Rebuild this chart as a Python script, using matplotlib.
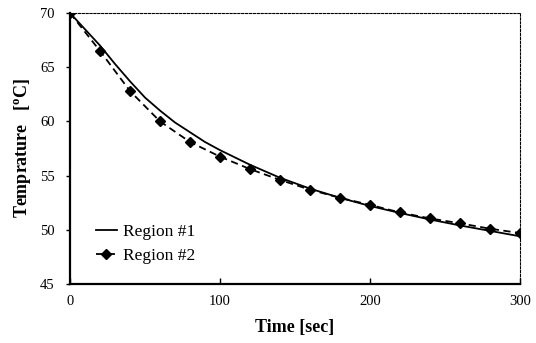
import matplotlib
matplotlib.use("Agg")
import matplotlib.pyplot as plt

# Data
t1 = [0, 10, 20, 30, 40, 50, 60, 70, 80, 90, 100, 120, 140, 160, 180, 200, 220, 240, 260, 280, 300]
region1 = [70.0, 68.5, 67.0, 65.3, 63.7, 62.2, 61.0, 59.9, 59.0, 58.1, 57.35, 56.0, 54.8, 53.8, 52.95, 52.2, 51.55, 50.95, 50.4, 49.9, 49.4]

t2 = [0, 20, 40, 60, 80, 100, 120, 140, 160, 180, 200, 220, 240, 260, 280, 300]
region2 = [70.0, 66.5, 62.8, 60.0, 58.1, 56.75, 55.6, 54.6, 53.7, 52.95, 52.3, 51.6, 51.05, 50.6, 50.1, 49.7]

xticks = [0, 100, 200, 300]
yticks = [45, 50, 55, 60, 65, 70]

plt.rcParams['font.family'] = ['Liberation Serif', 'DejaVu Serif']

fig = plt.figure(figsize=(5.36, 3.43), dpi=100)
ax = fig.add_axes([70/536, 1-284/343, 450/536, 271/343])

ax.plot(t1, region1, color='black', lw=1.3, label='Region #1')
ax.plot(t2, region2, color='black', lw=1.3, ls=(0, (4, 2.5)), marker='D', ms=4.8,
        label='Region #2')

ax.set_xlim(0, 300)
ax.set_ylim(45, 70)
ax.set_xticks(xticks)
ax.set_yticks(yticks)
ax.tick_params(axis='x', direction='in', length=4, width=1, labelsize=10.5, pad=8)
ax.tick_params(axis='y', direction='out', length=3, width=1, labelsize=10.5, pad=8)

for s in ['left', 'bottom']:
    ax.spines[s].set_linewidth(1.6)
for s in ['top', 'right']:
    ax.spines[s].set_linewidth(0.8)
    ax.spines[s].set_linestyle((0, (2, 1.5)))

ax.set_xlabel('Time [sec]', fontsize=13, fontweight='bold', labelpad=8)
ax.set_ylabel('Temprature   [$\\mathregular{^o}$C]', fontsize=13, fontweight='bold', labelpad=5)

leg = ax.legend(loc='lower left', bbox_to_anchor=(0.042, 0.048), frameon=False, fontsize=12.5,
                handlelength=1.2, handletextpad=0.35, labelspacing=0.45, borderaxespad=0)

fig.savefig('out.png', dpi=100)
